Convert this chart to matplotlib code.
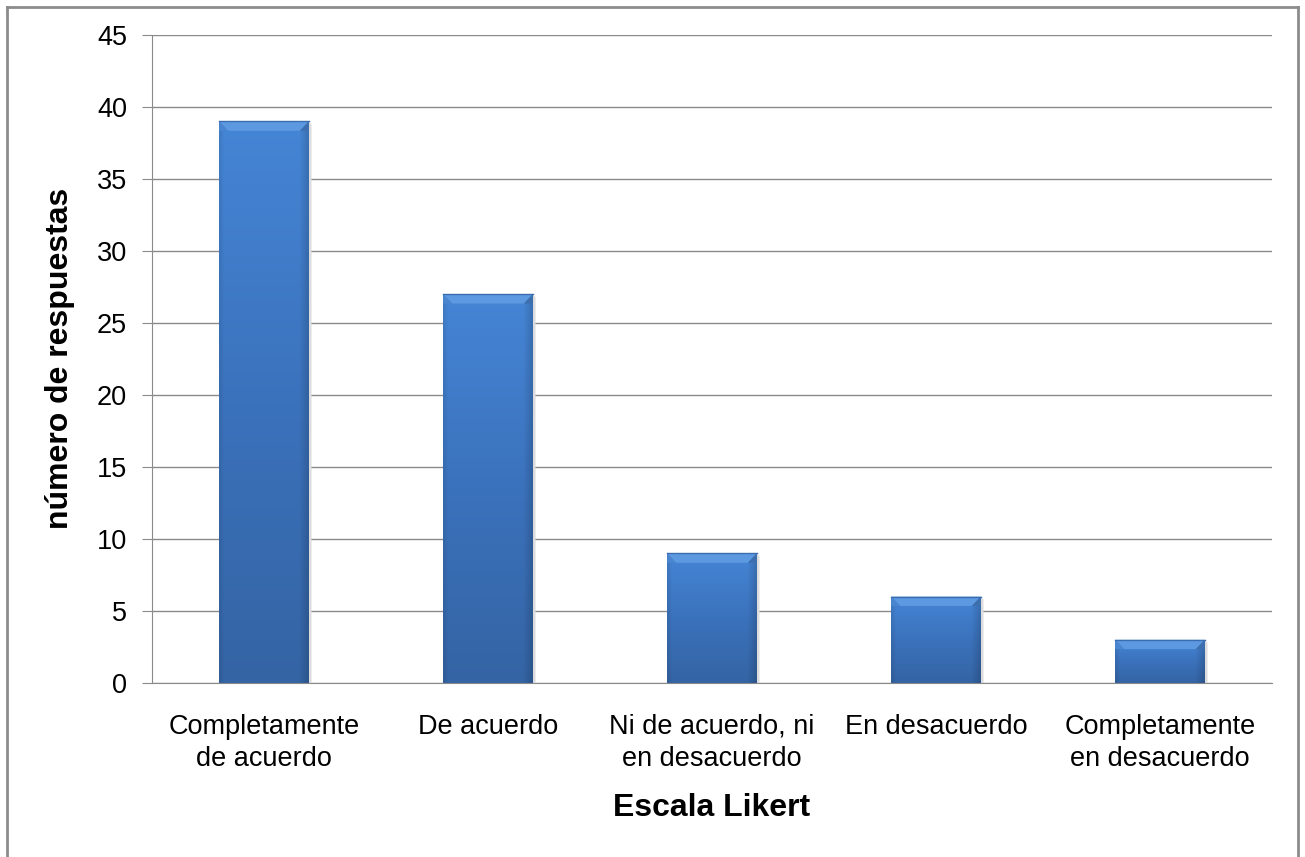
import numpy as np
import matplotlib
matplotlib.use("Agg")
import matplotlib.pyplot as plt
from matplotlib.colors import LinearSegmentedColormap
from matplotlib.patches import Rectangle

categories = ["Completamente\nde acuerdo", "De acuerdo", "Ni de acuerdo, ni\nen desacuerdo",
              "En desacuerdo", "Completamente\nen desacuerdo"]
values = [39, 27, 9, 6, 3]
yticks = [0, 5, 10, 15, 20, 25, 30, 35, 40, 45]

plt.rcParams['font.family'] = ['Liberation Sans', 'DejaVu Sans']

fig = plt.figure(figsize=(13.05, 8.57), dpi=100)
ax = fig.add_axes([152/1305, 1-683/857, 1120/1305, 648/857])

# outer frame
for xs, ys in [([7/1305, 7/1305], [0, 1-7/857]), ([7/1305, 1298/1305], [1-7/857, 1-7/857]),
               ([1298/1305, 1298/1305], [0, 1-7/857])]:
    fig.add_artist(plt.Line2D(xs, ys, color='#8c8c8c', lw=2, transform=fig.transFigure))

x = np.arange(len(values))
width = 0.4
ax.set_xlim(-0.5, len(values) - 0.5)
ax.set_ylim(0, 45)
ax.set_yticks(yticks)
ax.grid(axis='y', color='#8a8a8a', lw=1)
ax.set_axisbelow(True)

cmap = LinearSegmentedColormap.from_list('b', ['#3464a4', '#3b72bc', '#4585d5'])
hx = np.linspace(0, 1, 60)
hshade = 1 - 0.15 * np.clip((hx - 0.9) / 0.1, 0, 1) - 0.08 * np.clip((0.05 - hx) / 0.05, 0, 1)

for xi, v in zip(x, values):
    x0, x1 = xi - width / 2, xi + width / 2
    vert = np.linspace(0, 1, 100)[:, None]
    rgb = cmap(vert)[:, :, :3] * np.ones((100, 60, 1))
    rgb = rgb * hshade[None, :, None]
    img = ax.imshow(rgb, extent=[x0, x1, 0, v], origin='lower', aspect='auto', zorder=2)
    rect = Rectangle((x0, 0), width, v, facecolor='none', edgecolor='none', zorder=2)
    ax.add_patch(rect)
    img.set_clip_path(rect)
    # top bevel
    bh = 0.65
    bw = 0.04
    ax.fill([x0, x1, x1 - bw, x0 + bw], [v, v, v - bh, v - bh], color='#5d99e0', zorder=3, lw=0)
    ax.fill([x0, x0 + bw, x0 + bw, x0], [v, v - bh, v - bh, v - bh], color='#4a86cf', zorder=3, lw=0)
    ax.fill([x1, x1 - bw, x1 - bw, x1], [v, v - bh, v - bh, v - bh], color='#3d6fae', zorder=3, lw=0)
    ax.plot([x0, x1], [v, v], color='#3a6db0', lw=1, zorder=4)
    # shadow
    ax.fill([x1, x1 + 0.012, x1 + 0.012, x1], [0, 0, v - 0.2, v], color='#dcdcdc', zorder=1.5, lw=0)

ax.set_xticks(x)
ax.set_xticklabels(categories, fontsize=19.5, linespacing=1.3)
ax.tick_params(axis='x', length=0, pad=22)
ax.tick_params(axis='y', labelsize=19.5, length=7, color='#8a8a8a', pad=11, direction='out')
for s in ['top', 'right']:
    ax.spines[s].set_visible(False)
for s in ['left', 'bottom']:
    ax.spines[s].set_color('#8a8a8a')

fig.text(60/1305, 1 - 358/857, 'número de respuestas', fontsize=23, fontweight='bold',
         rotation=90, ha='center', va='center')
fig.text(712/1305, 1 - 808/857, 'Escala Likert', fontsize=23, fontweight='bold',
         ha='center', va='center')

fig.savefig('out.png', dpi=100, facecolor='white')
